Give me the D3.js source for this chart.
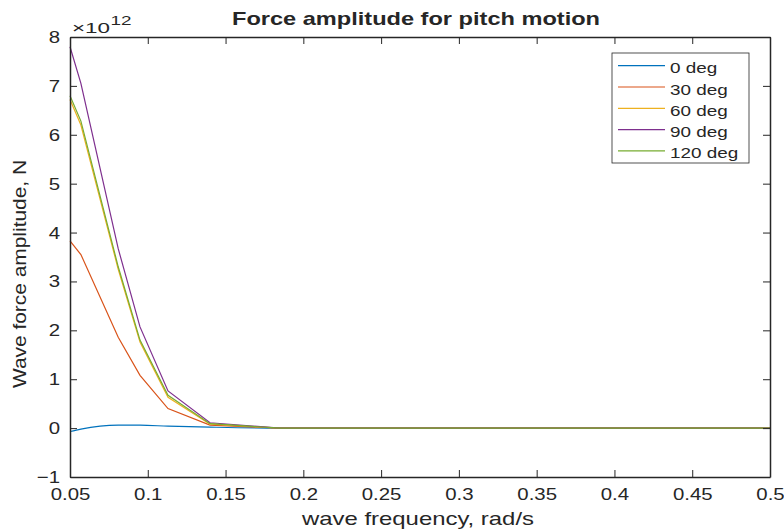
<!DOCTYPE html>
<html>
<head>
<meta charset="utf-8">
<script src="https://cdn.jsdelivr.net/npm/d3@7"></script>
<style>
  body { margin: 0; background: #fff; }
  text { font-family: "Liberation Sans", Arial, sans-serif; fill: #262626; }
</style>
</head>
<body>
<div id="chart"></div>
<script>
// wave frequency, rad/s
var freq = [0.05, 0.057, 0.081, 0.095, 0.113, 0.14, 0.185, 0.25, 0.3, 0.35, 0.4, 0.45, 0.5];
// force amplitude, x 1e12 N
var deg0   = [-0.07, -0.02, 0.06, 0.06, 0.04, 0.02, 0, 0, 0, 0, 0, 0, 0];
var deg30  = [3.83, 3.55, 1.86, 1.08, 0.40, 0.06, 0, 0, 0, 0, 0, 0, 0];
var deg60  = [6.72, 6.20, 3.25, 1.76, 0.63, 0.08, 0, 0, 0, 0, 0, 0, 0];
var deg90  = [7.80, 7.05, 3.67, 2.07, 0.76, 0.11, 0, 0, 0, 0, 0, 0, 0];
var deg120 = [6.80, 6.28, 3.30, 1.80, 0.67, 0.09, 0, 0, 0, 0, 0, 0, 0];

var seriesNames = ["0 deg", "30 deg", "60 deg", "90 deg", "120 deg"];
var seriesVals = [deg0, deg30, deg60, deg90, deg120];
var colors = ["#0072BD", "#D95319", "#EDB120", "#7E2F8E", "#77AC30"];

var xTicks = [0.05, 0.1, 0.15, 0.2, 0.25, 0.3, 0.35, 0.4, 0.45, 0.5];
var yTicks = [-1, 0, 1, 2, 3, 4, 5, 6, 7, 8];

var margin = {top: 37, right: 14, bottom: 52, left: 70},
    width = 784 - margin.left - margin.right,
    height = 529 - margin.top - margin.bottom;

var svg = d3.select("#chart")
  .append("svg")
    .attr("width", 784)
    .attr("height", 529)
  .append("g")
    .attr("transform", "translate(" + margin.left + "," + margin.top + ")");

var x = d3.scaleLinear().domain([0.05, 0.5]).range([0, width]);
var y = d3.scaleLinear().domain([-1, 8]).range([height, 0]);

seriesVals.forEach(function(vals, i) {
  var line = d3.line()
    .x(function(d) { return x(d[0]); })
    .y(function(d) { return y(d[1]); })
    .curve(i === 0 ? d3.curveMonotoneX : d3.curveLinear);
  svg.append("path")
    .datum(freq.map(function(f, j) { return [f, vals[j]]; }))
    .attr("fill", "none")
    .attr("stroke", colors[i])
    .attr("stroke-width", 1.2)
    .attr("d", line);
});

// axes with inward ticks (box style)
function styleAxis(g) {
  g.select(".domain").attr("stroke", "#262626").attr("stroke-width", 1.5);
  g.selectAll(".tick line").attr("stroke", "#262626").attr("stroke-width", 1);
}

var sx = 1.2;

var xb = svg.append("g")
  .attr("transform", "translate(0," + height + ")")
  .call(d3.axisBottom(x).tickValues(xTicks).tickSizeInner(-7).tickSizeOuter(0)
    .tickFormat(function(d) { return d3.format("")(+d.toFixed(2)); }));
xb.selectAll(".tick text").attr("y", 11).attr("font-size", 17)
  .attr("transform", "scale(" + sx + ",1)");
styleAxis(xb);

var xt = svg.append("g")
  .call(d3.axisTop(x).tickValues(xTicks).tickSizeInner(-7).tickSizeOuter(0).tickFormat(""));
styleAxis(xt);

var yl = svg.append("g")
  .call(d3.axisLeft(y).tickValues(yTicks).tickSizeInner(-7).tickSizeOuter(0));
yl.selectAll(".tick text").attr("x", -10 / sx).attr("font-size", 17)
  .attr("transform", "scale(" + sx + ",1)");
styleAxis(yl);

var yr = svg.append("g")
  .attr("transform", "translate(" + width + ",0)")
  .call(d3.axisRight(y).tickValues(yTicks).tickSizeInner(-7).tickSizeOuter(0).tickFormat(""));
styleAxis(yr);

svg.selectAll(".tick text").style("font-family", "Liberation Sans, Arial, sans-serif").attr("fill", "#262626");

// exponent
svg.append("text").attr("x", 2).attr("y", -4.5).attr("font-size", 15.5)
  .attr("textLength", 38).attr("lengthAdjust", "spacingAndGlyphs")
  .text("\u00d710");
svg.append("text").attr("x", 40.5).attr("y", -12).attr("font-size", 12)
  .attr("textLength", 21).attr("lengthAdjust", "spacingAndGlyphs")
  .text("12");

// title
svg.append("text")
  .attr("x", 416 - margin.left).attr("y", -12)
  .attr("text-anchor", "middle")
  .attr("font-size", 18.5).attr("font-weight", "bold")
  .attr("textLength", 368).attr("lengthAdjust", "spacingAndGlyphs")
  .text("Force amplitude for pitch motion");

// axis labels
svg.append("text")
  .attr("x", 418 - margin.left).attr("y", height + 48)
  .attr("text-anchor", "middle").attr("font-size", 19)
  .attr("textLength", 232).attr("lengthAdjust", "spacingAndGlyphs")
  .text("wave frequency, rad/s");

svg.append("text")
  .attr("transform", "translate(-44," + (274 - margin.top) + ") rotate(-90)")
  .attr("text-anchor", "middle").attr("font-size", 19)
  .attr("textLength", 228).attr("lengthAdjust", "spacingAndGlyphs")
  .text("Wave force amplitude, N");

// legend
var lg = svg.append("g").attr("transform", "translate(" + (612 - margin.left) + "," + (53 - margin.top) + ")");
lg.append("rect").attr("width", 137).attr("height", 110)
  .attr("fill", "#fff").attr("stroke", "#262626").attr("stroke-width", 0.8);
seriesNames.forEach(function(name, i) {
  var row = lg.append("g").attr("transform", "translate(0," + (12.7 + i * 21.3) + ")");
  row.append("line").attr("x1", 6).attr("x2", 53).attr("y1", 0).attr("y2", 0)
    .attr("stroke", colors[i]).attr("stroke-width", 1.2);
  row.append("text").attr("transform", "translate(58,7.5) scale(1.35,1)")
    .attr("font-size", 14).text(name);
});
</script>
</body>
</html>
